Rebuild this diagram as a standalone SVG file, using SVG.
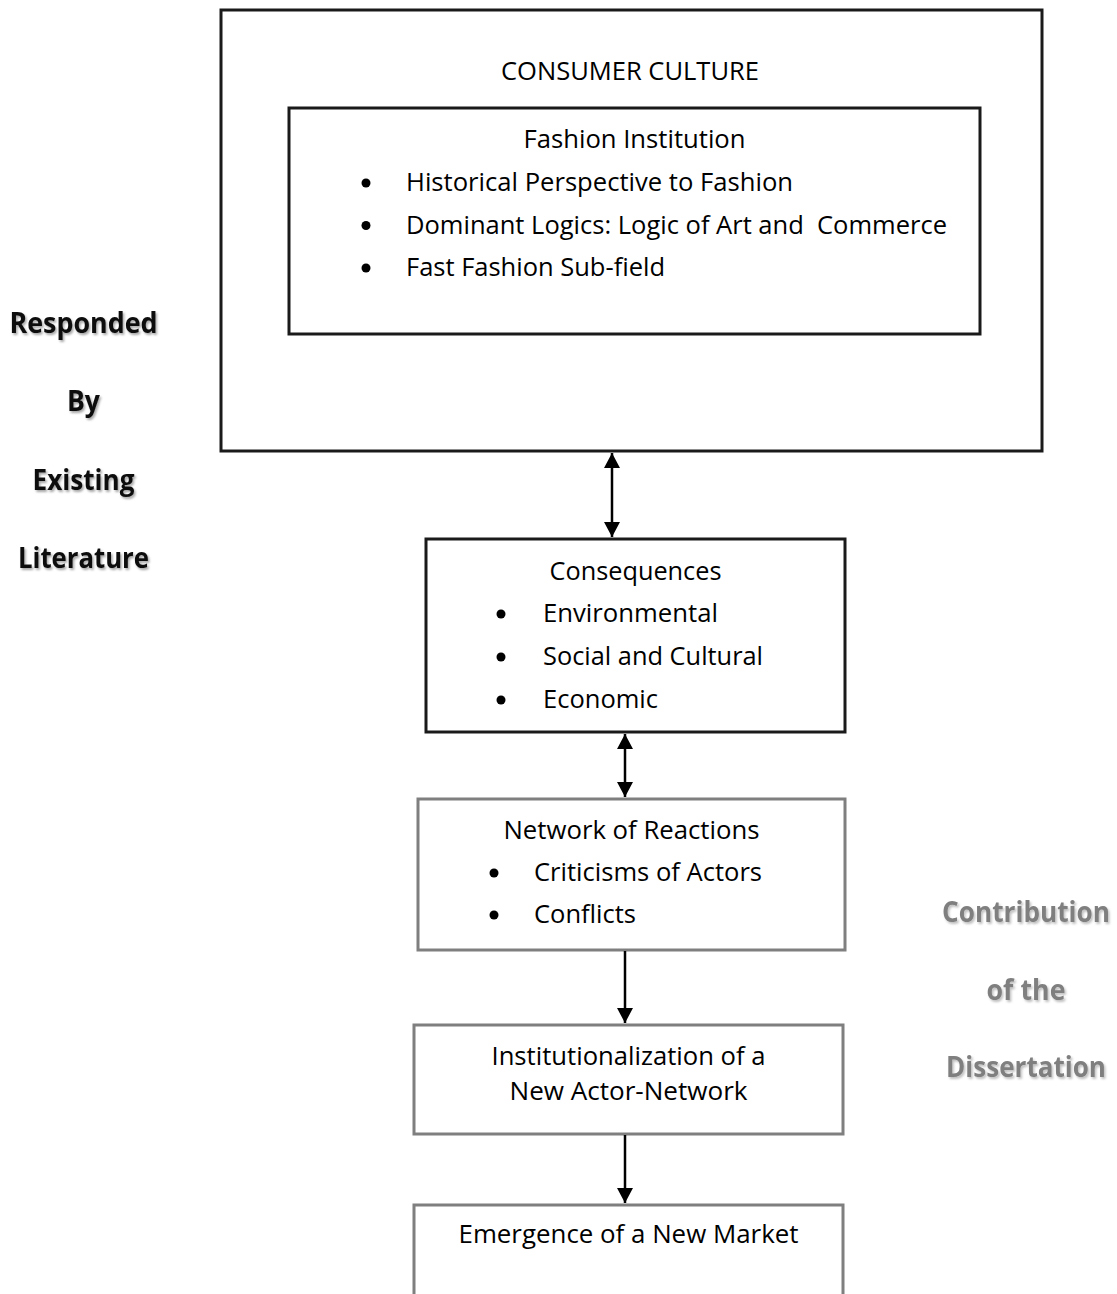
<svg xmlns="http://www.w3.org/2000/svg" width="1117" height="1294" viewBox="0 0 1117 1294">
<style>
.t{font-family:"Open Sans","Noto Sans","Liberation Sans",sans-serif;font-size:26px;fill:#000}
.m{text-anchor:middle}
.lb{font-family:"Open Sans","Noto Sans","Liberation Sans",sans-serif;font-size:29px;font-weight:bold;text-anchor:middle}
.dark{fill:#111;filter:url(#sh)}
.grey{fill:#7f7f7f;filter:url(#sh2)}
.bx{fill:#fff;stroke:#1a1a1a;stroke-width:3}
.gb{fill:#fff;stroke:#7f7f7f;stroke-width:3}
.bul{fill:#000}
.con{stroke:#000;stroke-width:2.5;fill:none}
</style>
<defs>
<filter id="sh" x="-10%" y="-30%" width="130%" height="170%"><feDropShadow dx="1.5" dy="2" stdDeviation="1" flood-color="#000" flood-opacity="0.35"/></filter>
<filter id="sh2" x="-10%" y="-30%" width="130%" height="170%"><feDropShadow dx="1.5" dy="2" stdDeviation="1" flood-color="#000" flood-opacity="0.25"/></filter>
<marker id="ah" markerUnits="userSpaceOnUse" markerWidth="16" markerHeight="16" refX="15" refY="8" orient="auto-start-reverse"><path d="M0,0 L15,8 L0,16 z" fill="#000"/></marker>
</defs>
<rect width="1117" height="1294" fill="#fff"/>

<g id="consumer-culture">
<rect class="bx" x="221" y="10" width="821" height="441"/>
<text class="t m" x="630" y="80" textLength="258" lengthAdjust="spacingAndGlyphs">CONSUMER CULTURE</text>
</g>

<g id="fashion-institution">
<rect class="bx" x="289" y="108" width="691" height="226"/>
<text class="t m" x="634.5" y="148" textLength="222" lengthAdjust="spacingAndGlyphs">Fashion Institution</text>
<circle class="bul" cx="366" cy="183" r="4.5"/>
<text class="t" x="406" y="191" textLength="387" lengthAdjust="spacingAndGlyphs">Historical Perspective to Fashion</text>
<circle class="bul" cx="366" cy="225.5" r="4.5"/>
<text class="t" x="406" y="233.5" textLength="541" lengthAdjust="spacingAndGlyphs" xml:space="preserve">Dominant Logics: Logic of Art and  Commerce</text>
<circle class="bul" cx="366" cy="268" r="4.5"/>
<text class="t" x="406" y="276" textLength="259" lengthAdjust="spacingAndGlyphs">Fast Fashion Sub-field</text>
</g>

<g id="consequences">
<rect class="bx" x="426" y="539" width="419" height="193"/>
<text class="t m" x="635.5" y="580" textLength="172" lengthAdjust="spacingAndGlyphs">Consequences</text>
<circle class="bul" cx="501" cy="614" r="4.5"/>
<text class="t" x="543" y="622" textLength="175" lengthAdjust="spacingAndGlyphs">Environmental</text>
<circle class="bul" cx="501" cy="657" r="4.5"/>
<text class="t" x="543" y="665" textLength="220" lengthAdjust="spacingAndGlyphs">Social and Cultural</text>
<circle class="bul" cx="501" cy="700" r="4.5"/>
<text class="t" x="543" y="708" textLength="115" lengthAdjust="spacingAndGlyphs">Economic</text>
</g>

<g id="network-of-reactions">
<rect class="gb" x="418" y="799" width="427" height="151"/>
<text class="t m" x="631.5" y="839" textLength="256" lengthAdjust="spacingAndGlyphs">Network of Reactions</text>
<circle class="bul" cx="494" cy="873" r="4.5"/>
<text class="t" x="534" y="881" textLength="228" lengthAdjust="spacingAndGlyphs">Criticisms of Actors</text>
<circle class="bul" cx="494" cy="915" r="4.5"/>
<text class="t" x="534" y="923" textLength="102" lengthAdjust="spacingAndGlyphs">Conflicts</text>
</g>

<g id="institutionalization">
<rect class="gb" x="414" y="1025" width="429" height="109"/>
<text class="t m" x="628.5" y="1065" textLength="274" lengthAdjust="spacingAndGlyphs">Institutionalization of a</text>
<text class="t m" x="628.5" y="1100" textLength="238" lengthAdjust="spacingAndGlyphs">New Actor-Network</text>
</g>

<g id="emergence">
<rect class="gb" x="414" y="1205" width="429" height="110"/>
<text class="t m" x="628.5" y="1243" textLength="340" lengthAdjust="spacingAndGlyphs">Emergence of a New Market</text>
</g>

<g id="label-existing-literature">
<text class="lb dark" x="83.5" y="333" textLength="148" lengthAdjust="spacingAndGlyphs">Responded</text>
<text class="lb dark" x="83.5" y="411" textLength="33" lengthAdjust="spacingAndGlyphs">By</text>
<text class="lb dark" x="83.5" y="490" textLength="102" lengthAdjust="spacingAndGlyphs">Existing</text>
<text class="lb dark" x="83.5" y="568" textLength="131" lengthAdjust="spacingAndGlyphs">Literature</text>
</g>

<g id="label-contribution">
<text class="lb grey" x="1026" y="922" textLength="168" lengthAdjust="spacingAndGlyphs">Contribution</text>
<text class="lb grey" x="1026" y="1000" textLength="79" lengthAdjust="spacingAndGlyphs">of the</text>
<text class="lb grey" x="1026" y="1077" textLength="160" lengthAdjust="spacingAndGlyphs">Dissertation</text>
</g>

<g id="connectors">
<line class="con" x1="612" y1="453" x2="612" y2="537" marker-start="url(#ah)" marker-end="url(#ah)"/>
<line class="con" x1="625" y1="734" x2="625" y2="797" marker-start="url(#ah)" marker-end="url(#ah)"/>
<line class="con" x1="625" y1="951" x2="625" y2="1023" marker-end="url(#ah)"/>
<line class="con" x1="625" y1="1135" x2="625" y2="1203" marker-end="url(#ah)"/>
</g>
</svg>
